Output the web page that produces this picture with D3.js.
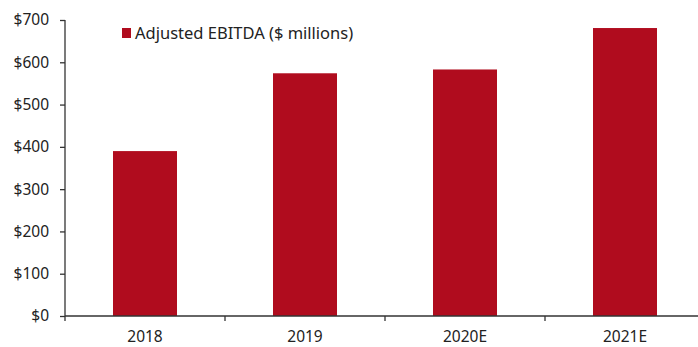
<!DOCTYPE html>
<html>
<head>
<meta charset="utf-8">
<script src="https://cdn.jsdelivr.net/npm/d3@7"></script>
<style>
  html, body { margin: 0; padding: 0; background: #fff; }
  svg { display: block; }
  text { font-family: "Noto Sans", sans-serif; fill: #222; }
</style>
</head>
<body>
<svg id="chart" width="698" height="347"></svg>
<script>
// Adjusted EBITDA by year ($ millions)
const categories = ["2018", "2019", "2020E", "2021E"];
const ebitda = [390, 574, 583, 681];
const yTicks = [0, 100, 200, 300, 400, 500, 600, 700];
const seriesName = "Adjusted EBITDA ($ millions)";

const svg = d3.select("#chart");
const margin = { left: 65, top: 20, bottom: 31 };
const bandW = 160;
const plotH = 347 - margin.top - margin.bottom;
const barColor = "#B00C1E";

const x = d3.scaleBand()
  .domain(categories)
  .range([margin.left, margin.left + bandW * categories.length])
  .paddingInner(0.6)
  .paddingOuter(0.3);

const y = d3.scaleLinear()
  .domain([0, 700])
  .range([margin.top + plotH, margin.top]);

// bars
svg.append("g")
  .selectAll("rect")
  .data(categories)
  .join("rect")
  .attr("x", d => x(d))
  .attr("width", x.bandwidth())
  .attr("y", (d, i) => y(ebitda[i]))
  .attr("height", (d, i) => y(0) - y(ebitda[i]))
  .attr("fill", barColor);

// y axis
const yAxis = svg.append("g")
  .attr("transform", `translate(${margin.left},0)`)
  .call(d3.axisLeft(y).tickValues(yTicks).tickFormat(d => "$" + d).tickSize(5).tickPadding(11));
yAxis.selectAll("path, line").attr("stroke", "#333").attr("stroke-width", 1.3);
yAxis.select(".domain").attr("d", `M0,${y(700)}V${y(0)}`);
yAxis.selectAll("text").style("font-size", "15.5px").attr("fill", "#222");

// x axis with ticks at category boundaries
const xAxisG = svg.append("g").attr("transform", `translate(0,${y(0)})`);
xAxisG.append("line")
  .attr("x1", margin.left).attr("x2", 698)
  .attr("stroke", "#333").attr("stroke-width", 1.3);
const step = x.step();
xAxisG.selectAll("line.tk")
  .data(categories.map((d, i) => margin.left + i * step))
  .join("line")
  .attr("class", "tk")
  .attr("x1", d => d).attr("x2", d => d)
  .attr("y1", 0).attr("y2", 5)
  .attr("stroke", "#333").attr("stroke-width", 1.3);
xAxisG.selectAll("text")
  .data(categories)
  .join("text")
  .attr("x", d => x(d) + x.bandwidth() / 2)
  .attr("y", 26)
  .attr("text-anchor", "middle")
  .style("font-size", "15.5px")
  .text(d => d);

// legend
const lg = svg.append("g").attr("transform", "translate(122,28)");
lg.append("rect").attr("width", 9).attr("height", 10).attr("fill", barColor);
lg.append("text").attr("x", 13).attr("y", 11).style("font-size", "16.5px").text(seriesName);
</script>
</body>
</html>
